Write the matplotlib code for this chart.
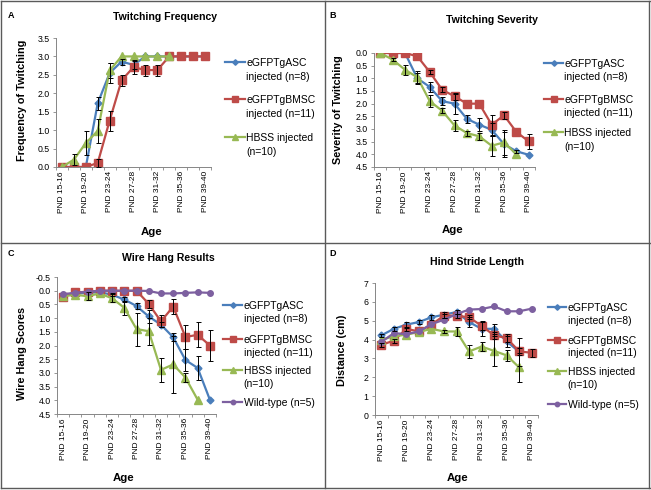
import numpy as np
import matplotlib
matplotlib.use("Agg")
import matplotlib.pyplot as plt
from matplotlib.lines import Line2D

plt.rcParams['font.family'] = ['Liberation Sans', 'DejaVu Sans']

# categories (13 age bins, every other one labelled)
ages = ['PND 15-16', 'PND 17-18', 'PND 19-20', 'PND 21-22', 'PND 23-24', 'PND 25-26',
        'PND 27-28', 'PND 29-30', 'PND 31-32', 'PND 33-34', 'PND 35-36', 'PND 37-38',
        'PND 39-40']
nan = np.nan

# A - twitching frequency
freq_asc = [0, 0, 0, 1.73, 2.55, 2.86, 2.77, 3.0, 3.0, 3.0, 3.0, 3.0, 3.0]
freq_asc_err = [0, 0, 0, 0.18, 0.28, 0.08, 0.1, 0, 0, 0, 0, 0, 0]
freq_bmsc = [0, 0, 0, 0.11, 1.26, 2.35, 2.71, 2.63, 2.63, 3.0, 3.0, 3.0, 3.0]
freq_bmsc_err = [0, 0, 0, 0.1, 0.27, 0.15, 0.18, 0.15, 0.15, 0, 0, 0, 0]
freq_hbss = [0, 0.2, 0.65, 0.98, 2.62, 3.0, 3.0, 3.0, 3.0, 3.0, nan, nan, nan]
freq_hbss_err = [0, 0.15, 0.33, 0.33, 0.2, 0, 0, 0, 0, 0, 0, 0, 0]

# B - twitching severity
sev_asc = [0, 0, 0, 1.0, 1.34, 1.9, 2.0, 2.6, 2.83, 3.03, 3.6, 3.88, 4.02]
sev_asc_err = [0, 0, 0, 0.2, 0.2, 0.15, 0.4, 0.15, 0.25, 0.25, 0.5, 0.05, 0]
sev_bmsc = [0, 0, 0, 0.13, 0.75, 1.45, 1.71, 2.0, 2.0, 2.83, 2.46, 3.12, 3.49]
sev_bmsc_err = [0, 0, 0, 0, 0.08, 0.1, 0.15, 0, 0, 0.4, 0.15, 0, 0.28]
sev_hbss = [0, 0.26, 0.66, 0.96, 1.9, 2.28, 2.86, 3.16, 3.29, 3.66, 3.53, 4.0, nan]
sev_hbss_err = [0, 0.05, 0.2, 0.25, 0.25, 0.1, 0.2, 0.1, 0.15, 0.4, 0.5, 0, 0]

# C - wire hang
wh_asc = [0.15, 0.1, 0.08, 0.05, 0.15, 0.32, 0.56, 0.94, 1.24, 1.7, 2.53, 2.82, 3.98]
wh_asc_err = [0, 0, 0, 0, 0.05, 0.1, 0.1, 0.25, 0.1, 0.15, 0.4, 0.45, 0]
wh_bmsc = [0.22, 0.06, 0.04, 0, 0, 0.01, 0, 0.48, 1.12, 0.58, 1.69, 1.61, 2.0]
wh_bmsc_err = [0, 0, 0, 0, 0, 0, 0, 0.15, 0.22, 0.27, 0.45, 0.45, 0.57]
wh_hbss = [0.2, 0.15, 0.2, 0.1, 0.28, 0.62, 1.4, 1.48, 2.89, 2.69, 3.17, 3.98, nan]
wh_hbss_err = [0, 0, 0.15, 0, 0.15, 0.25, 0.6, 0.5, 0.45, 1.05, 0.15, 0, 0]
wh_wt = [0.13, 0.07, 0.04, 0, 0, 0, 0, 0.01, 0.1, 0.1, 0.08, 0.06, 0.08]

# D - hind stride length
hs_asc = [4.22, 4.57, 4.79, 4.93, 5.18, 5.32, 5.46, 4.93, 4.57, 4.57, 3.9, 3.35, nan]
hs_asc_err = [0.1, 0.1, 0.15, 0.1, 0.12, 0.15, 0.1, 0.25, 0.4, 0.25, 0.3, 0.75, 0]
hs_bmsc = [3.72, 3.94, 4.57, 4.43, 4.79, 5.27, 5.27, 5.18, 4.73, 4.22, 4.08, 3.37, 3.3]
hs_bmsc_err = [0.1, 0.1, 0.1, 0, 0, 0.1, 0.1, 0.1, 0.2, 0.2, 0.2, 0.2, 0.2]
hs_hbss = [3.99, 4.17, 4.26, 4.4, 4.57, 4.43, 4.43, 3.37, 3.63, 3.4, 3.16, 2.52, nan]
hs_hbss_err = [0, 0, 0, 0, 0, 0.1, 0.25, 0.33, 0.25, 0.8, 0.3, 0.78, 0]
hs_wt = [3.87, 4.34, 4.29, 4.43, 4.82, 5.05, 5.35, 5.59, 5.62, 5.76, 5.5, 5.5, 5.64]

lab_asc = ['eGFPTgASC', 'injected (n=8)']
lab_bmsc = ['eGFPTgBMSC', 'injected (n=11)']
lab_hbss = ['HBSS injected', '(n=10)']
lab_wt = ['Wild-type (n=5)']

BLUE, RED, GREEN, PURPLE = '#4A7EBB', '#BE4B48', '#98B954', '#7D60A0'
styles = {
    'asc': dict(color=BLUE, marker='D', ms=3.5),
    'bmsc': dict(color=RED, marker='s', ms=5.5),
    'hbss': dict(color=GREEN, marker='^', ms=5.5),
    'wt': dict(color=PURPLE, marker='o', ms=4),
}

W, H = 651, 490
fig = plt.figure(figsize=(W / 100, H / 100), dpi=100)


def fx(x):
    return x / W


def fy(y):
    return 1 - y / H


def panel(box, series, ylim, yticks, yfmt, invert, letter, title, ylabel, lab_pos,
          leg_x, leg_y, line_gap=13.5):
    l, t, r, b = box
    ax = fig.add_axes([fx(l), fy(b), fx(r) - fx(l), fy(t) - fy(b)])
    x = np.arange(len(ages))
    for key, vals, err, lab in series:
        st = styles[key]
        ax.plot(x, vals, color=st['color'], lw=1.6, marker=st['marker'], ms=st['ms'],
                mfc=st['color'], mec=st['color'])
        if err is not None:
            e = np.array(err, dtype=float)
            e[e == 0] = nan
            ax.errorbar(x, vals, yerr=e, fmt='none', ecolor='black', elinewidth=0.7,
                        capsize=1.8, capthick=0.7, zorder=3)
    ax.set_xlim(-0.5, 12.5)
    ax.set_ylim(*ylim)
    if invert:
        ax.invert_yaxis()
    ax.set_yticks(yticks)
    ax.set_yticklabels([yfmt.format(v) for v in yticks])
    ax.set_xticks(x[::2])
    ax.set_xticklabels(ages[::2], rotation=90)
    ax.set_xticks(np.arange(-0.5, 13, 1), minor=True)
    ax.tick_params(axis='x', which='major', length=0, labelsize=6.0, pad=3)
    ax.tick_params(axis='x', which='minor', length=2.5, width=0.6, color='#868686')
    ax.tick_params(axis='y', length=2.5, width=0.6, color='#868686', labelsize=6.3, pad=2)
    for s in ['top', 'right']:
        ax.spines[s].set_visible(False)
    for s in ['left', 'bottom']:
        ax.spines[s].set_color('#868686')
        ax.spines[s].set_linewidth(0.7)

    fig.text(fx(lab_pos['letter'][0]), fy(lab_pos['letter'][1]), letter, fontsize=6.5,
             fontweight='bold', ha='left', va='center')
    fig.text(fx(lab_pos['title'][0]), fy(lab_pos['title'][1]), title, fontsize=7.6,
             fontweight='bold', ha='center', va='center')
    fig.text(fx(lab_pos['xlab'][0]), fy(lab_pos['xlab'][1]), 'Age', fontsize=8.2,
             fontweight='bold', ha='center', va='center')
    fig.text(fx(lab_pos['ylab'][0]), fy(lab_pos['ylab'][1]), ylabel, fontsize=7.8,
             fontweight='bold', ha='center', va='center', rotation=90)

    # legend: handle sits on the first text line of each entry
    hx0, hx1 = leg_x
    for (key, vals, err, lab), y0 in zip(series, leg_y):
        st = styles[key]
        fig.add_artist(Line2D([fx(hx0), fx(hx1)], [fy(y0), fy(y0)], color=st['color'],
                              lw=1.6, transform=fig.transFigure))
        fig.add_artist(Line2D([fx((hx0 + hx1) / 2)], [fy(y0)], color=st['color'],
                              marker=st['marker'], ms=st['ms'] * 0.8, lw=0,
                              transform=fig.transFigure))
        for i, line in enumerate(lab):
            fig.text(fx(hx1 + 1.5), fy(y0 + i * line_gap), line, fontsize=7.5,
                     ha='left', va='center_baseline')
    return ax


panel((56, 38, 211, 167),
      [('asc', freq_asc, freq_asc_err, lab_asc),
       ('bmsc', freq_bmsc, freq_bmsc_err, lab_bmsc),
       ('hbss', freq_hbss, freq_hbss_err, lab_hbss)],
      (0, 3.5), np.arange(0, 3.51, 0.5), '{:.1f}', False, 'A', 'Twitching Frequency',
      'Frequency of Twitching',
      dict(letter=(8, 15), title=(165, 17), xlab=(152, 232), ylab=(22, 100)),
      (225, 245), [62, 99, 137], 14)

panel((374, 53, 535, 167),
      [('asc', sev_asc, sev_asc_err, lab_asc),
       ('bmsc', sev_bmsc, sev_bmsc_err, lab_bmsc),
       ('hbss', sev_hbss, sev_hbss_err, lab_hbss)],
      (0, 4.5), np.arange(0, 4.51, 0.5), '{:.1f}', True, 'B', 'Twitching Severity',
      'Severity of Twitching',
      dict(letter=(329, 15), title=(492, 20), xlab=(453, 230), ylab=(338, 110)),
      (544, 563), [63, 99, 132], 13.5)

panel((57, 277, 216, 414),
      [('asc', wh_asc, wh_asc_err, lab_asc),
       ('bmsc', wh_bmsc, wh_bmsc_err, lab_bmsc),
       ('hbss', wh_hbss, wh_hbss_err, lab_hbss),
       ('wt', wh_wt, None, lab_wt)],
      (-0.5, 4.5), np.arange(-0.5, 4.51, 0.5), '{:.1f}', True, 'C', 'Wire Hang Results',
      'Wire Hang Scores',
      dict(letter=(8, 253), title=(168, 258), xlab=(124, 478), ylab=(22, 353)),
      (223, 242), [305, 339, 370, 402], 12.5)

panel((375, 283, 538, 415),
      [('asc', hs_asc, hs_asc_err, lab_asc),
       ('bmsc', hs_bmsc, hs_bmsc_err, lab_bmsc),
       ('hbss', hs_hbss, hs_hbss_err, lab_hbss),
       ('wt', hs_wt, None, lab_wt)],
      (0, 7), np.arange(0, 7.1, 1), '{:.0f}', False, 'D', 'Hind Stride Length',
      'Distance (cm)',
      dict(letter=(329, 253), title=(477, 262), xlab=(458, 478), ylab=(342, 350)),
      (548, 566), [307, 340, 371, 404], 12.5)

# quadrant frame
frame_kw = dict(color='#5a5a5a', lw=1.0, transform=fig.transFigure)
for (x0, y0, x1, y1) in [(1, 1, 650, 1), (1, 488, 650, 488), (1, 1, 1, 488),
                         (649, 1, 649, 488), (325, 1, 325, 488), (1, 243, 650, 243)]:
    fig.add_artist(Line2D([fx(x0), fx(x1)], [fy(y0), fy(y1)], **frame_kw))

fig.savefig('out.png', dpi=100)
